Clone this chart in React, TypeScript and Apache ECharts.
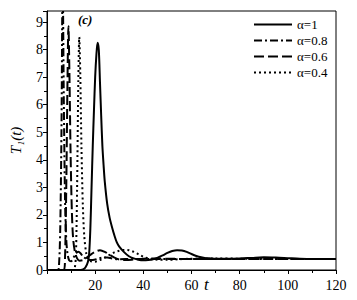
import React, { useEffect, useRef } from "react";
import * as echarts from "echarts";

const xTicks = [0, 20, 40, 60, 80, 100, 120];
const yTicks = [0, 1, 2, 3, 4, 5, 6, 7, 8, 9];
const seriesNames = ["α=1", "α=0.8", "α=0.6", "α=0.4"];

const alpha1: [number, number][] = [
  [0, 0], [14, 0], [15, 0.02], [16, 0.1], [17, 0.3], [17.5, 0.6], [18, 1.5], [18.5, 3], [19, 4.5],
  [19.5, 5.8], [20, 7], [20.5, 7.8], [21, 8.25], [21.5, 8.0], [22, 6.8], [22.5, 5.6], [23, 4.5],
  [23.5, 3.8], [24, 3.2], [25, 2.4], [26, 1.9], [27, 1.55], [28, 1.25], [29, 1.0], [30, 0.85],
  [32, 0.65], [34, 0.5], [36, 0.42], [38, 0.37], [40, 0.35], [42, 0.36], [44, 0.39], [46, 0.45],
  [48, 0.53], [50, 0.62], [52, 0.69], [54, 0.72], [56, 0.71], [58, 0.66], [60, 0.58], [62, 0.51],
  [64, 0.46], [66, 0.43], [68, 0.42], [70, 0.41], [75, 0.41], [80, 0.42], [85, 0.44], [90, 0.46],
  [95, 0.45], [100, 0.43], [105, 0.41], [110, 0.4], [120, 0.4],
];

const alpha08: [number, number][] = [
  [0, 0], [4.5, 0], [5, 0.2], [5.5, 1.5], [6, 5], [6.5, 10.5], [7, 6], [7.5, 2.5], [8, 1.1],
  [8.5, 0.6], [9.2, 0.35], [10, 0.32], [11, 0.45], [12, 0.6], [13, 0.66],
  [14, 0.6], [15, 0.48], [17, 0.38], [19, 0.36], [21, 0.4], [23, 0.45], [25, 0.45], [27, 0.42],
  [30, 0.39], [35, 0.4], [50, 0.4], [70, 0.4], [90, 0.4], [120, 0.4],
];

const alpha06: [number, number][] = [
  [0, 0], [7, 0], [7.5, 0.5], [8, 3], [8.5, 6.8], [8.9, 8.85], [9.3, 7.2], [9.8, 4.2],
  [10.3, 2.2], [10.8, 1.2], [11.5, 0.7], [12.5, 0.42], [13.5, 0.34], [15, 0.36],
  [16, 0.42], [18, 0.55], [20, 0.66], [22, 0.72], [24, 0.66], [26, 0.55], [28, 0.45], [30, 0.38],
  [33, 0.36], [36, 0.38], [40, 0.41], [45, 0.42], [50, 0.41], [60, 0.4], [80, 0.4], [100, 0.4], [120, 0.4],
];

const alpha04: [number, number][] = [
  [0, 0], [11, 0], [11.5, 0.05], [12, 0.5], [12.5, 3], [13, 6.8], [13.4, 8.45], [13.8, 7.2],
  [14.3, 4.5], [14.9, 2.3], [15.5, 1.2], [16.3, 0.6], [17, 0.4], [18, 0.32], [20, 0.3], [22, 0.36],
  [24, 0.45], [26, 0.55], [28, 0.64], [30, 0.7], [32, 0.73], [34, 0.72], [36, 0.66], [38, 0.57],
  [40, 0.48], [42, 0.42], [45, 0.38], [50, 0.37], [55, 0.39], [60, 0.41], [70, 0.42], [80, 0.41],
  [100, 0.4], [120, 0.4],
];

const FONT = "Liberation Serif";

export default function App() {
  const ref = useRef<HTMLDivElement>(null);
  useEffect(() => {
    document.body.style.margin = "0";
    if (!ref.current) return;
    const chart = echarts.init(ref.current, null, { renderer: "svg" });
    const mk = (name: string, data: [number, number][], type: any) => ({
      name,
      type: "line",
      data,
      symbol: "none",
      smooth: 0.3,
      clip: true,
      lineStyle: { color: "#000", width: 2, type },
      itemStyle: { color: "#000" },
    });
    chart.setOption({
      animation: false,
      backgroundColor: "#fff",
      grid: { left: 47, right: 21, top: 11, bottom: 30, show: true, borderColor: "#000", borderWidth: 1 },
      legend: {
        orient: "vertical",
        left: 248,
        top: 13,
        itemWidth: 38,
        itemHeight: 14,
        itemGap: 3,
        itemStyle: { opacity: 0 },
        textStyle: { fontFamily: FONT, fontSize: 13, color: "#000" },
        data: seriesNames,
      },
      xAxis: {
        type: "value",
        min: 0,
        max: 120,
        interval: 20,
        minorTick: { show: true, splitNumber: 2, length: 3, lineStyle: { color: "#000" } },
        axisLine: { lineStyle: { color: "#000" } },
        axisTick: { length: 4, lineStyle: { color: "#000" } },
        axisLabel: {
          fontFamily: FONT,
          fontSize: 14,
          color: "#000",
          formatter: (v: number) => (xTicks.includes(v) && v !== 0 ? String(v) : ""),
        },
        splitLine: { show: false },
      },
      yAxis: {
        type: "value",
        min: 0,
        max: 9.4,
        interval: 1,
        name: "T\u2081(t)",
        nameLocation: "middle",
        nameRotate: 90,
        nameGap: 24,
        nameTextStyle: { fontFamily: FONT, fontSize: 15, fontStyle: "italic", color: "#000" },
        minorTick: { show: true, splitNumber: 2, length: 3, lineStyle: { color: "#000" } },
        axisLine: { lineStyle: { color: "#000" } },
        axisTick: { length: 4, lineStyle: { color: "#000" } },
        axisLabel: {
          fontFamily: FONT,
          fontSize: 14,
          color: "#000",
          margin: 4,
          formatter: (v: number) => (yTicks.includes(v) ? String(v) : ""),
        },
        splitLine: { show: false },
      },
      graphic: [
        {
          type: "text",
          left: 78,
          top: 13,
          style: { text: "(c)", font: `italic bold 13px ${FONT}`, fill: "#000" },
        },
        {
          type: "text",
          left: 204,
          top: 276,
          style: { text: "t", font: `italic 17px ${FONT}`, fill: "#000" },
        },
      ],
      series: [
        mk(seriesNames[0], alpha1, "solid"),
        mk(seriesNames[1], alpha08, [8, 3, 2, 3]),
        mk(seriesNames[2], alpha06, [10, 4]),
        mk(seriesNames[3], alpha04, [2, 3]),
      ],
    });
    return () => chart.dispose();
  }, []);
  return <div ref={ref} style={{ width: 357, height: 300 }} />;
}
